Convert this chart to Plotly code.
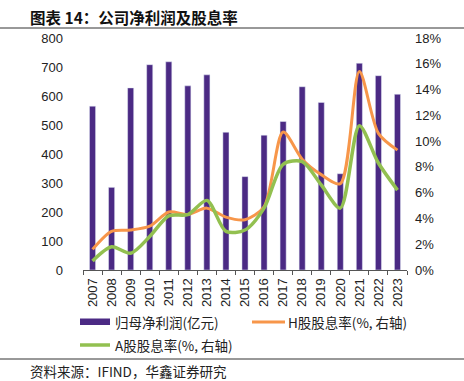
import plotly.graph_objects as go

years = [str(y) for y in range(2007, 2024)]
profit = [565, 285, 628, 708, 718, 635, 673, 475, 322, 465, 512, 632, 578, 332, 713, 670, 606]
h_yield = [1.6, 3.0, 3.1, 3.4, 4.5, 4.3, 4.8, 4.1, 3.9, 4.9, 10.7, 8.6, 7.4, 6.7, 15.4, 10.6, 9.3]
a_yield = [0.7, 1.8, 1.3, 2.6, 4.2, 4.3, 5.4, 3.0, 3.1, 4.8, 8.2, 8.4, 6.6, 4.8, 11.2, 8.3, 6.2]
series_names = ["归母净利润(亿元)", "H股股息率(%, 右轴)", "A股股息率(%, 右轴)"]
colors = ["#4B2A84", "#F7964A", "#92C050"]

FONT_NUM = "Liberation Sans, Arial, sans-serif"
FONT_CJK = "Noto Sans CJK SC, sans-serif"

L, R, T, B = 83, 57, 38, 111
W, H = 464, 381
PW, PH = W - L - R, H - T - B


def px(x):
    return (x - L) / PW


def py(y):
    return (H - B - y) / PH


fig = go.Figure()
fig.add_trace(go.Bar(x=years, y=profit, name=series_names[0], marker_color=colors[0],
                     width=0.32, yaxis="y", showlegend=False))
fig.add_trace(go.Scatter(x=years, y=h_yield, name=series_names[1], mode="lines",
                         line=dict(color=colors[1], width=3, shape="spline", smoothing=0.8),
                         yaxis="y2", showlegend=False))
fig.add_trace(go.Scatter(x=years, y=a_yield, name=series_names[2], mode="lines",
                         line=dict(color=colors[2], width=3.5, shape="spline", smoothing=0.8),
                         yaxis="y2", showlegend=False))

shapes = [
    dict(type="line", xref="paper", yref="paper", x0=px(0), x1=px(W),
         y0=py(28), y1=py(28), line=dict(color="#333", width=1)),
    dict(type="line", xref="paper", yref="paper", x0=px(0), x1=px(W),
         y0=py(359), y1=py(359), line=dict(color="#333", width=1)),
    # legend keys
    dict(type="rect", xref="paper", yref="paper", x0=px(80), x1=px(110),
         y0=py(325), y1=py(318.5), fillcolor=colors[0], line=dict(width=0)),
    dict(type="line", xref="paper", yref="paper", x0=px(252), x1=px(285),
         y0=py(322), y1=py(322), line=dict(color=colors[1], width=3)),
    dict(type="line", xref="paper", yref="paper", x0=px(80), x1=px(110),
         y0=py(345), y1=py(345), line=dict(color=colors[2], width=3.5)),
]

annotations = [
    dict(text="<b>图表 14：公司净利润及股息率</b>", x=px(28), y=py(17),
         font=dict(family=FONT_CJK, size=15.5, color="#111")),
    dict(text="资料来源：IFIND，华鑫证券研究", x=px(28), y=py(371),
         font=dict(family=FONT_CJK, size=13.5, color="#222")),
    dict(text=series_names[0], x=px(113), y=py(322),
         font=dict(family=FONT_CJK, size=13.5, color="#222")),
    dict(text=series_names[1], x=px(286), y=py(322),
         font=dict(family=FONT_CJK, size=13.5, color="#222")),
    dict(text=series_names[2], x=px(113), y=py(345),
         font=dict(family=FONT_CJK, size=13.5, color="#222")),
]
for a in annotations:
    a.update(xref="paper", yref="paper", xanchor="left", yanchor="middle", showarrow=False)

fig.update_layout(
    width=W, height=H,
    margin=dict(l=L, r=R, t=T, b=B, autoexpand=False),
    paper_bgcolor="white", plot_bgcolor="white",
    showlegend=False,
    xaxis=dict(type="category", tickangle=-90, showline=True, linecolor="#555", linewidth=1,
               ticks="outside", ticklen=4, tickcolor="#555", tickson="boundaries",
               showgrid=False, automargin=False, ticklabelstandoff=2,
               tickfont=dict(family=FONT_NUM, size=13, color="#222")),
    yaxis=dict(range=[0, 800], dtick=100, showgrid=False, zeroline=False, showline=False,
               automargin=False,
               tickfont=dict(family=FONT_NUM, size=13, color="#222"), ticklabelstandoff=19),
    yaxis2=dict(range=[0, 18], dtick=2, ticksuffix="%", overlaying="y", side="right",
                showgrid=False, zeroline=False, showline=False, automargin=False,
                tickfont=dict(family=FONT_NUM, size=13, color="#222"), ticklabelstandoff=7),
    annotations=annotations,
    shapes=shapes,
)

fig.write_html("out.html", config={"displayModeBar": False},
               post_script="document.body.style.margin='0';document.body.style.overflow='hidden';")
